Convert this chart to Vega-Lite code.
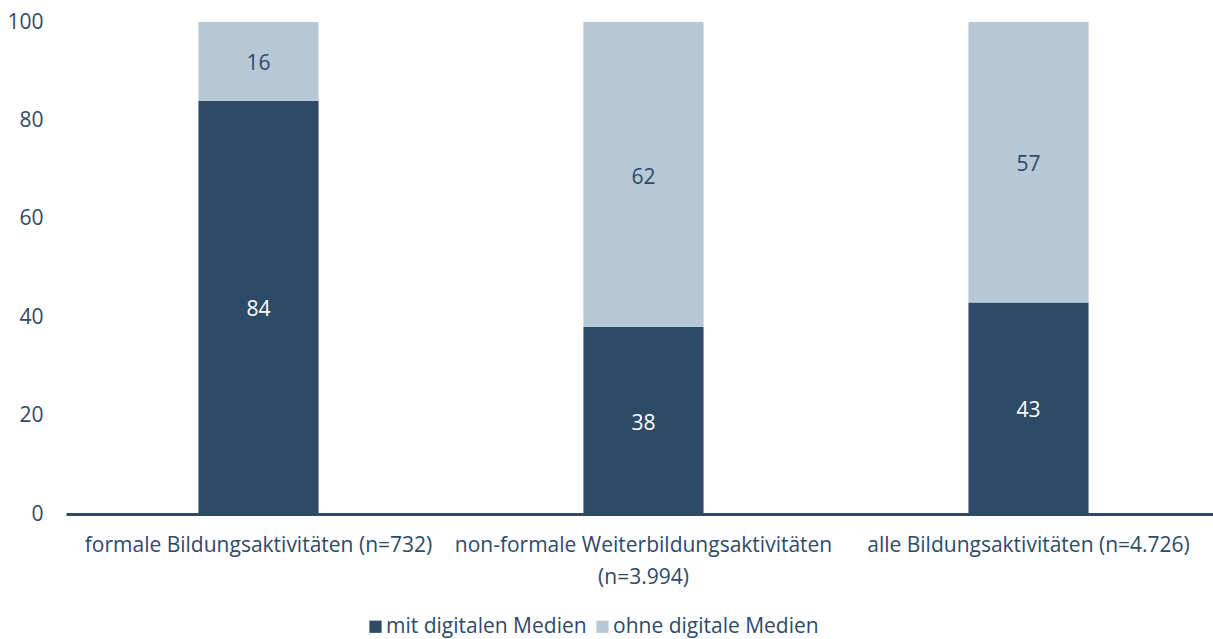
{
  "$schema": "https://vega.github.io/schema/vega-lite/v6.json",
  "width": 1155,
  "height": 492,
  "autosize": "none",
  "padding": {"left": 66, "top": 22, "right": 0, "bottom": 125},
  "background": "white",
  "config": {
    "view": {"stroke": null},
    "font": "Open Sans",
    "text": {"font": "Open Sans"}
  },
  "data": {
    "values": [
      {"kategorie": "formale Bildungsaktivitäten (n=732)", "medien": "mit digitalen Medien", "wert": 84, "ord": 1},
      {"kategorie": "formale Bildungsaktivitäten (n=732)", "medien": "ohne digitale Medien", "wert": 16, "ord": 2},
      {"kategorie": "non-formale Weiterbildungsaktivitäten|(n=3.994)", "medien": "mit digitalen Medien", "wert": 38, "ord": 1},
      {"kategorie": "non-formale Weiterbildungsaktivitäten|(n=3.994)", "medien": "ohne digitale Medien", "wert": 62, "ord": 2},
      {"kategorie": "alle Bildungsaktivitäten (n=4.726)", "medien": "mit digitalen Medien", "wert": 43, "ord": 1},
      {"kategorie": "alle Bildungsaktivitäten (n=4.726)", "medien": "ohne digitale Medien", "wert": 57, "ord": 2}
    ]
  },
  "transform": [
    {"stack": "wert", "groupby": ["kategorie"], "sort": [{"field": "ord"}], "as": ["y0", "y1"]},
    {"calculate": "(datum.y0 + datum.y1) / 2", "as": "ymid"}
  ],
  "encoding": {
    "x": {
      "field": "kategorie",
      "type": "nominal",
      "sort": null,
      "scale": {"paddingInner": 0.688, "paddingOuter": 0.344},
      "axis": {
        "title": null,
        "labelAngle": 0,
        "labelExpr": "split(datum.label, '|')",
        "labelFontSize": 21,
        "labelColor": "#2f4a68",
        "labelLineHeight": 32,
        "labelPadding": 20,
        "ticks": false,
        "domainColor": "#2e4a66",
        "domainWidth": 3,
        "labelLimit": 0
      }
    }
  },
  "layer": [
    {
      "mark": {"type": "bar"},
      "encoding": {
        "y": {
          "field": "y0",
          "type": "quantitative",
          "scale": {"domain": [0, 100]},
          "axis": {
            "title": null,
            "values": [0, 20, 40, 60, 80, 100],
            "grid": false,
            "ticks": false,
            "domain": false,
            "labelFontSize": 21,
            "labelColor": "#2f4a68",
            "labelPadding": 23
          }
        },
        "y2": {"field": "y1"},
        "color": {
          "field": "medien",
          "type": "nominal",
          "scale": {"domain": ["mit digitalen Medien", "ohne digitale Medien"], "range": ["#2e4a66", "#b7c8d6"]},
          "legend": {
            "title": null,
            "orient": "none",
            "direction": "horizontal",
            "legendX": 299,
            "legendY": 594,
            "symbolType": "square",
            "symbolSize": 150,
            "symbolStrokeWidth": 0,
            "labelFontSize": 21,
            "labelColor": "#2f4a68",
            "labelOffset": 0,
            "labelLimit": 0,
            "columnPadding": 5
          }
        }
      }
    },
    {
      "mark": {"type": "text", "fontSize": 21, "baseline": "middle", "dy": 3},
      "encoding": {
        "y": {"field": "ymid", "type": "quantitative"},
        "text": {"field": "wert", "type": "quantitative"},
        "color": {
          "condition": {"test": "datum.medien == 'mit digitalen Medien'", "value": "white"},
          "value": "#2f4a68"
        }
      }
    }
  ]
}
